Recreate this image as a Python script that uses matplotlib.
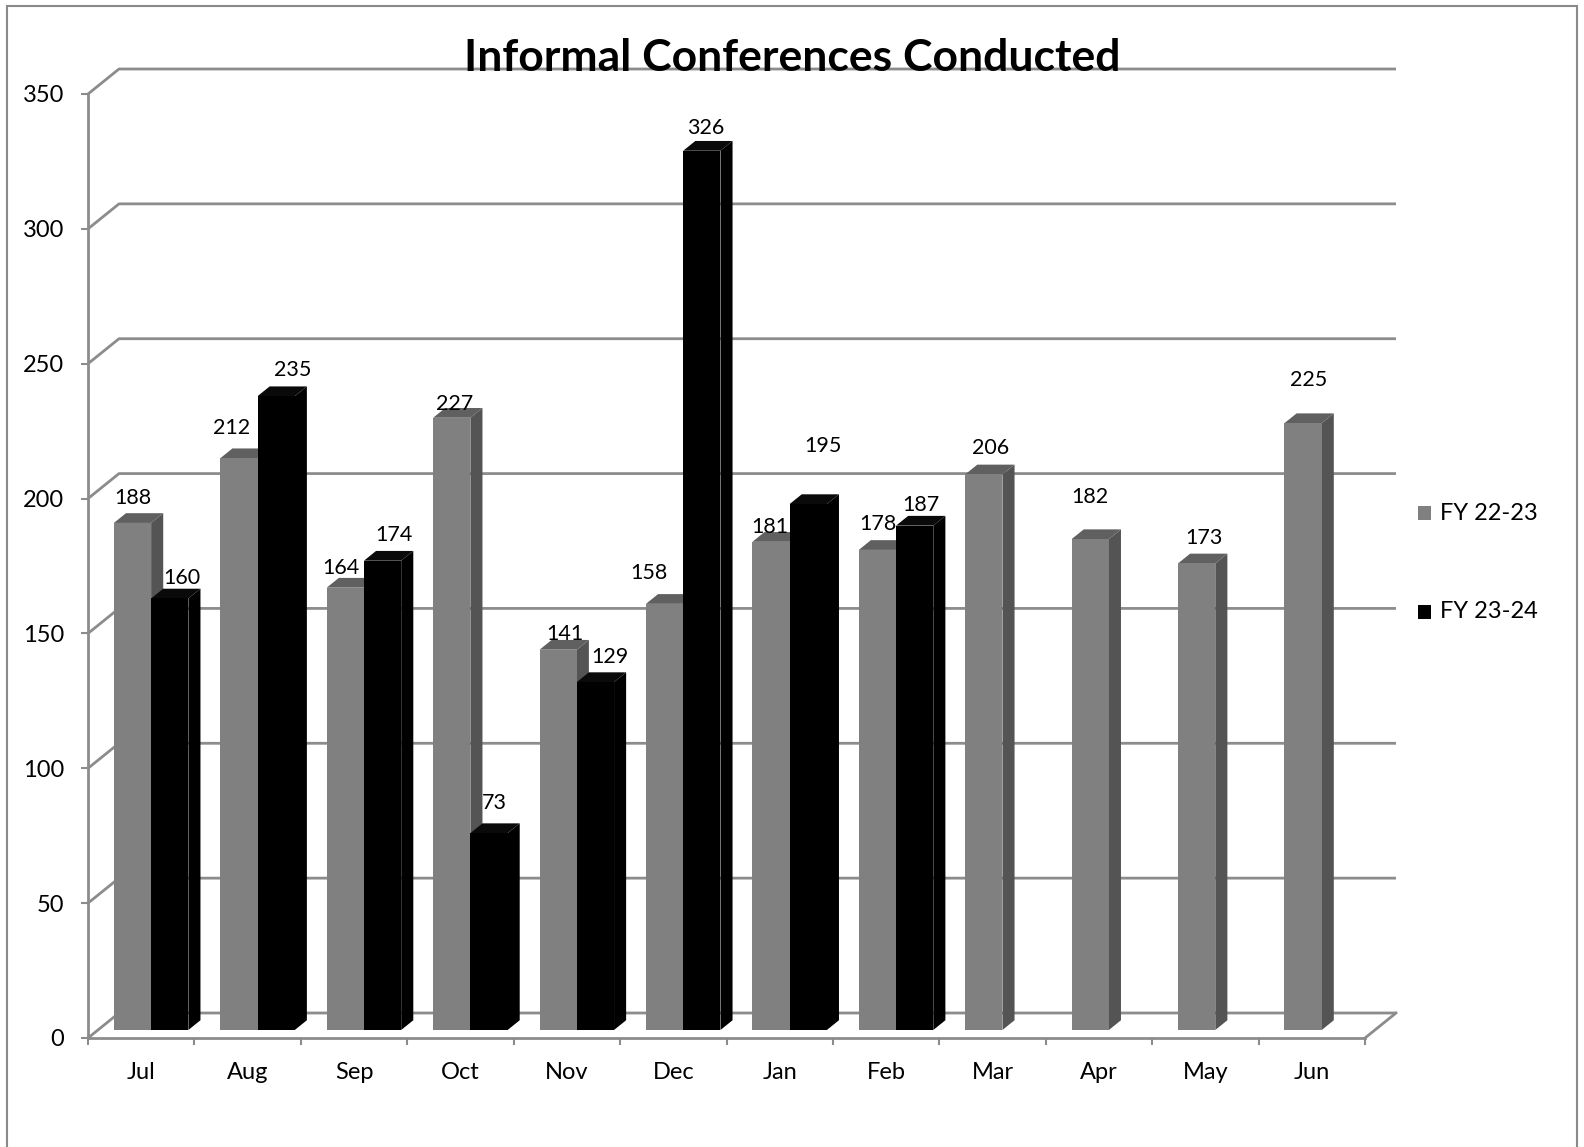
import matplotlib
matplotlib.use('Agg')
import matplotlib.pyplot as plt
from matplotlib.patches import Polygon, Rectangle

plt.rcParams['font.family'] = ['Lato', 'DejaVu Sans']

# Data
months = ['Jul', 'Aug', 'Sep', 'Oct', 'Nov', 'Dec',
          'Jan', 'Feb', 'Mar', 'Apr', 'May', 'Jun']
fy_22_23 = [188, 212, 164, 227, 141, 158, 181, 178, 206, 182, 173, 225]
fy_23_24 = [160, 235, 174, 73, 129, 326, 195, 187]
y_ticks = [0, 50, 100, 150, 200, 250, 300, 350]
series_names = ['FY 22-23', 'FY 23-24']

# label nudges (px, right/up) relative to the top of each bar's front face
label_nudge_a = [(0, 25), (-7, 30), (-4, 20), (3, 14), (7, 16), (-16, 31),
                 (-1, 15), (0, 26), (7, 26), (0, 42), (7, 25), (6, 43)]
label_nudge_b = [(12, 20), (17, 26), (11, 26), (5, 30), (15, 25), (4, 23),
                 (15, 58), (6, 21)]

GRID = '#8c8c8c'
GRAY_FRONT, GRAY_TOP, GRAY_SIDE = '#808080', '#606060', '#545454'
BLK_FRONT, BLK_TOP, BLK_SIDE = '#000000', '#0a0a0a', '#000000'

W, H = 1584, 1147
fig = plt.figure(figsize=(W / 100, H / 100), dpi=100)

# front plane of the plot area, in pixels
x_left, x_right, y_top, y_bottom = 88, 1365, 94, 1038
ax = fig.add_axes([x_left / W, 1 - y_bottom / H,
                   (x_right - x_left) / W, (y_bottom - y_top) / H])
ax.set_xlim(0, 12)
ax.set_ylim(0, 350)

px_per_x = (x_right - x_left) / 12
px_per_y = (y_bottom - y_top) / 350


def shift(dx_px, dy_px):
    """pixel offset -> data offset"""
    return dx_px / px_per_x, dy_px / px_per_y


wall_px = (31, 25)
wx, wy = shift(*wall_px)

# back wall gridlines with the slanted side wall
for v in y_ticks:
    ax.plot([0, wx, 12 + wx], [v, v + wy, v + wy], color=GRID, lw=2,
            solid_capstyle='butt', clip_on=False, zorder=1)
# right edge of the floor
ax.plot([12, 12 + wx], [0, wy], color=GRID, lw=2, clip_on=False, zorder=1)

# axes
for s in ['top', 'right']:
    ax.spines[s].set_visible(False)
for s in ['left', 'bottom']:
    ax.spines[s].set_color(GRID)
    ax.spines[s].set_linewidth(2)
    ax.spines[s].set_zorder(1)

ax.set_yticks(y_ticks)
ax.set_yticklabels([str(t) for t in y_ticks])
ax.tick_params(axis='y', direction='out', length=5, width=1.5, color=GRID,
               labelsize=17, pad=12)
ax.set_xticks(range(13))
ax.set_xticklabels([''] * 13)
ax.set_xticks([i + 0.5 for i in range(12)], minor=True)
ax.set_xticklabels(months, minor=True)
ax.tick_params(axis='x', which='major', direction='out', length=5, width=1.5,
               color=GRID)
ax.tick_params(axis='x', which='minor', length=0, labelsize=17, pad=17)
ax.patch.set_visible(False)

bar_w = 0.35
front = 0.32
depth = 0.39
fx, fy = shift(front * wall_px[0], front * wall_px[1])
bx, by = shift((front + depth) * wall_px[0], (front + depth) * wall_px[1])


def draw_bar(x0, v, colors, z):
    c_front, c_top, c_side = colors
    x1 = x0 + bar_w
    ax.add_patch(Polygon([(x1 + fx, fy), (x1 + bx, by), (x1 + bx, v + by),
                          (x1 + fx, v + fy)], closed=True, facecolor=c_side,
                         edgecolor='none', zorder=z, clip_on=False))
    ax.add_patch(Polygon([(x0 + fx, v + fy), (x1 + fx, v + fy),
                          (x1 + bx, v + by), (x0 + bx, v + by)], closed=True,
                         facecolor=c_top, edgecolor='none', zorder=z,
                         clip_on=False))
    ax.add_patch(Rectangle((x0 + fx, fy), bar_w, v, facecolor=c_front,
                           edgecolor='none', zorder=z, clip_on=False))


def label_bar(x0, v, nudge):
    ax.annotate(str(v), xy=(x0 + fx + bar_w / 2, v + fy),
                xytext=(nudge[0] * 0.72, nudge[1] * 0.72),
                textcoords='offset points', ha='center', va='center',
                fontsize=15.5, zorder=20, annotation_clip=False)


z = 2
for i, v in enumerate(fy_22_23):
    x0 = i + 0.5 - bar_w
    draw_bar(x0, v, (GRAY_FRONT, GRAY_TOP, GRAY_SIDE), z)
    label_bar(x0, v, label_nudge_a[i])
    z += 1
    if i < len(fy_23_24):
        x0 = i + 0.5
        draw_bar(x0, fy_23_24[i], (BLK_FRONT, BLK_TOP, BLK_SIDE), z)
        label_bar(x0, fy_23_24[i], label_nudge_b[i])
        z += 1

# title
fig.text(792 / W, 1 - 71 / H, 'Informal Conferences Conducted',
         ha='center', va='baseline', fontsize=32, fontweight='bold')

# legend
for k, (name, col) in enumerate(zip(series_names, [GRAY_FRONT, BLK_FRONT])):
    yc = 513 + k * 99
    fig.add_artist(Rectangle((1418 / W, 1 - (yc + 7) / H), 13 / W, 14 / H,
                             transform=fig.transFigure, facecolor=col,
                             edgecolor='none'))
    fig.text(1440 / W, 1 - yc / H, name, ha='left', va='center', fontsize=17)

# outer chart border
fig.add_artist(Rectangle((7 / W, -0.05), 1570 / W, 1.05 - 6 / H,
                         transform=fig.transFigure, fill=False,
                         edgecolor='#8a8a8a', lw=1.5))

fig.savefig('out.png', dpi=100)
